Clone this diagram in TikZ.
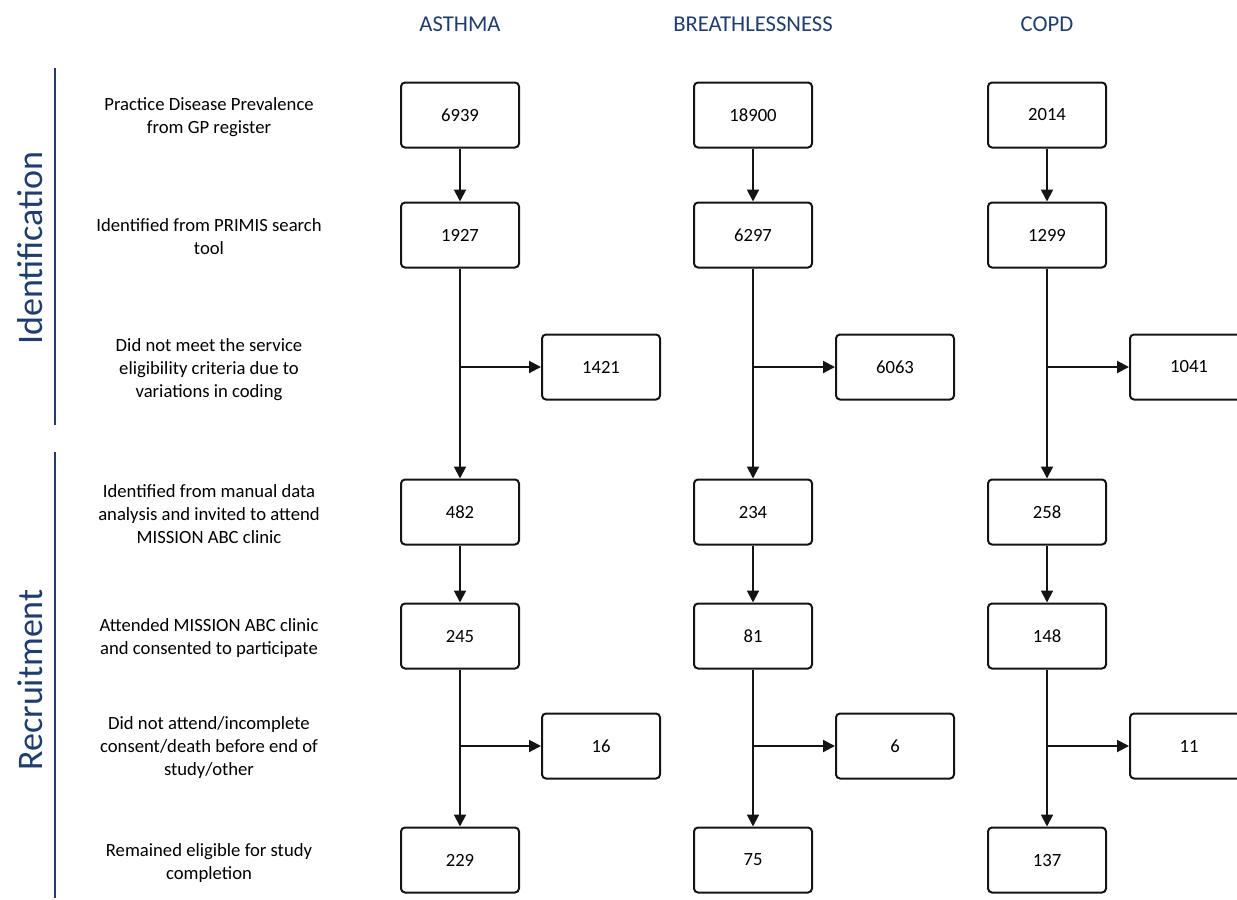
\documentclass[tikz,border=0pt]{standalone}
\usepackage{fontspec}
\setmainfont{Carlito}
\usetikzlibrary{arrows.meta}
\definecolor{hdrblue}{RGB}{31,61,110}
\definecolor{boxline}{RGB}{20,20,20}
\tikzset{
  numbox/.style={draw=boxline, line width=1.5pt, rounded corners=3pt, minimum width=88.5pt, minimum height=48.75pt, font=\fontsize{14}{17}\selectfont, inner sep=0pt},
  lbl/.style={align=center, font=\fontsize{14}{17.25}\selectfont, inner sep=0pt},
  hdr/.style={text=hdrblue, font=\fontsize{17}{20}\selectfont, inner sep=0pt},
  phase/.style={text=hdrblue, font=\fontsize{27}{30}\selectfont, rotate=90, inner sep=0pt},
  flow/.style={draw=boxline, line width=1.5pt},
  arr/.style={flow, -{Triangle[length=9pt,width=9pt]}},
  sep/.style={draw=hdrblue, line width=1.6pt}
}
\begin{document}
\begin{tikzpicture}[x=0.75pt,y=-0.75pt]
\useasboundingbox (0,0) rectangle (1237,899);
% headers
\node[hdr] (hA) at (460,24) {ASTHMA};
\node[hdr] (hB) at (753,24) {BREATHLESSNESS};
\node[hdr] (hC) at (1047,24) {COPD};
% phase labels and lines
\node[phase] (pI) at (30,248) {Identification};
\node[phase] (pR) at (30,680) {Recruitment};
\coordinate (l1t) at (55,68); \coordinate (l1b) at (55,425);
\coordinate (l2t) at (55,452); \coordinate (l2b) at (55,898);
\draw[sep] (l1t) -- (l1b);
\draw[sep] (l2t) -- (l2b);
% row labels
\node[lbl] (t1) at (209,117) {Practice Disease Prevalence\\from GP register};
\node[lbl] (t2) at (209,237) {Identified from PRIMIS search\\tool};
\node[lbl] (t3) at (209,370) {Did not meet the service\\eligibility criteria due to\\variations in coding};
\node[lbl] (t4) at (209,514) {Identified from manual data\\analysis and invited to attend\\MISSION ABC clinic};
\node[lbl] (t5) at (209,638) {Attended MISSION ABC clinic\\and consented to participate};
\node[lbl] (t6) at (209,748) {Did not attend/incomplete\\consent/death before end of\\study/other};
\node[lbl] (t7) at (209,863) {Remained eligible for study\\completion};
% Asthma
\node[numbox] (a1) at (460,115) {6939};
\node[numbox] (a2) at (460,235) {1927};
\node[numbox] (a3) at (601,367) {1421};
\node[numbox] (a4) at (460,512) {482};
\node[numbox] (a5) at (460,636) {245};
\node[numbox] (a6) at (601,746) {16};
\node[numbox] (a7) at (460,860) {229};
% Breathlessness
\node[numbox] (b1) at (753,115) {18900};
\node[numbox] (b2) at (753,235) {6297};
\node[numbox] (b3) at (895,367) {6063};
\node[numbox] (b4) at (753,512) {234};
\node[numbox] (b5) at (753,636) {81};
\node[numbox] (b6) at (895,746) {6};
\node[numbox] (b7) at (753,860) {75};
% COPD
\node[numbox] (c1) at (1047,115) {2014};
\node[numbox] (c2) at (1047,235) {1299};
\node[numbox] (c3) at (1189,367) {1041};
\node[numbox] (c4) at (1047,512) {258};
\node[numbox] (c5) at (1047,636) {148};
\node[numbox] (c6) at (1189,746) {11};
\node[numbox] (c7) at (1047,860) {137};
% connectors
\foreach \p in {a,b,c}{
  \draw[arr] (\p1) -- (\p2);
  \draw[arr] (\p2) -- (\p4);
  \draw[arr] (\p2.south |- \p3.west) -- (\p3);
  \draw[arr] (\p4) -- (\p5);
  \draw[arr] (\p5) -- (\p7);
  \draw[arr] (\p5.south |- \p6.west) -- (\p6);
}
\end{tikzpicture}
\end{document}
